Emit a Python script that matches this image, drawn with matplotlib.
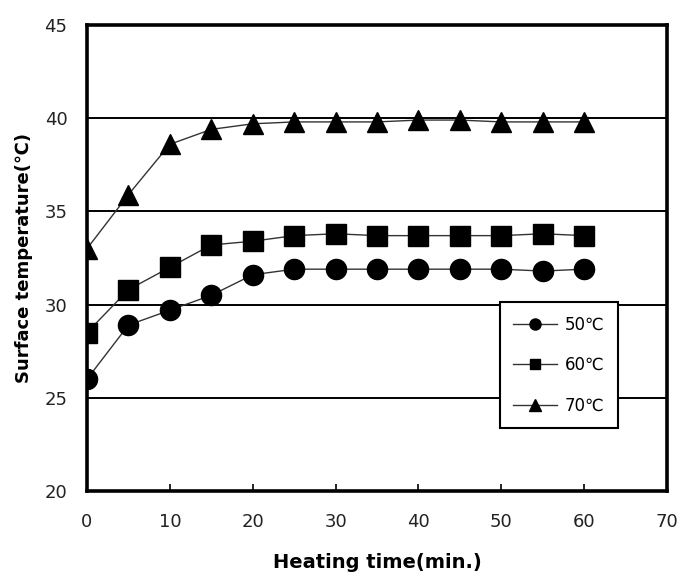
import numpy as np
import matplotlib
matplotlib.use("Agg")
import matplotlib.pyplot as plt

plt.rcParams['font.family'] = ['Liberation Sans Narrow', 'DejaVu Sans']

# heating time (min.)
time_min = [0, 5, 10, 15, 20, 25, 30, 35, 40, 45, 50, 55, 60]

# surface temperature for each heating setting
temp_50 = [26.0, 28.9, 29.7, 30.5, 31.6, 31.9, 31.9, 31.9, 31.9, 31.9, 31.9, 31.8, 31.9]
temp_60 = [28.5, 30.8, 32.0, 33.2, 33.4, 33.7, 33.8, 33.7, 33.7, 33.7, 33.7, 33.8, 33.7]
temp_70 = [33.0, 35.9, 38.6, 39.4, 39.7, 39.8, 39.8, 39.8, 39.9, 39.9, 39.8, 39.8, 39.8]

series_labels = ["50\u2103", "60\u2103", "70\u2103"]
x_ticks = [0, 10, 20, 30, 40, 50, 60, 70]
y_ticks = [20, 25, 30, 35, 40, 45]

fig = plt.figure(figsize=(6.86, 5.82), dpi=100)
ax = fig.add_axes([87 / 686, 1 - 491 / 582, (667 - 87) / 686, (491 - 25) / 582])

# horizontal gridlines like the original chart
for yv in y_ticks[1:-1]:
    ax.axhline(yv, color="black", lw=1.4, zorder=1)

ax.plot(time_min, temp_50, color="#333333", lw=1, marker="o", ms=14.5,
        mfc="black", mec="black", label=series_labels[0], zorder=3)
ax.plot(time_min, temp_60, color="#333333", lw=1, marker="s", ms=14,
        mfc="black", mec="black", label=series_labels[1], zorder=3)
ax.plot(time_min, temp_70, color="#333333", lw=1, marker="^", ms=14.5,
        mfc="black", mec="black", label=series_labels[2], zorder=3)

ax.set_xlim(0, 70)
ax.set_ylim(20, 45)
ax.set_xticks(x_ticks)
ax.set_yticks(y_ticks)
ax.tick_params(axis="x", direction="in", length=5, width=1.2, pad=16,
               labelsize=13, colors="black")
ax.tick_params(axis="y", length=0, pad=14, labelsize=13)
for lbl in ax.get_xticklabels() + ax.get_yticklabels():
    lbl.set_color("#222222")

for sp in ax.spines.values():
    sp.set_linewidth(2.6)
    sp.set_color("black")

ax.set_xlabel("Heating time(min.)", fontsize=14, fontweight="bold",
              family="DejaVu Sans", labelpad=16)
ax.set_ylabel("Surface temperature(\u2103)", fontsize=13, fontweight="bold",
              family="DejaVu Sans", labelpad=8)

leg = ax.legend(loc="upper left", bbox_to_anchor=(500 / 686, 1 - 302 / 582),
                bbox_transform=fig.transFigure, borderaxespad=0, fancybox=False,
                framealpha=1, edgecolor="black", markerscale=0.55,
                handlelength=2.6, fontsize=12, labelspacing=1.35,
                borderpad=0.8, handletextpad=0.5)
leg.get_frame().set_linewidth(1.5)

fig.savefig("out.png", dpi=100)
